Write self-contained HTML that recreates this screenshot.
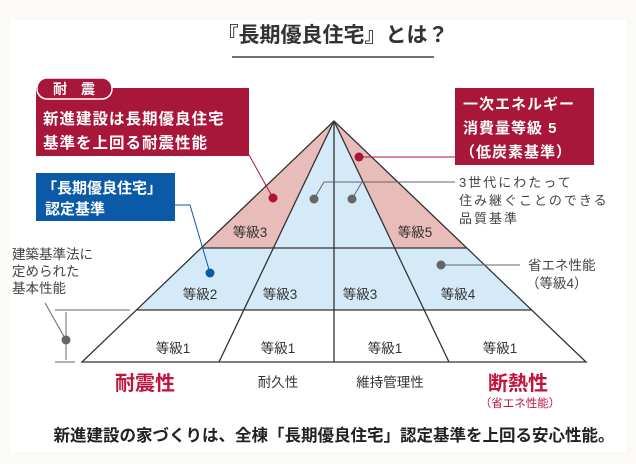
<!DOCTYPE html>
<html><head><meta charset="utf-8"><style>
body{margin:0;background:#fbfaf7;}
svg{display:block;font-family:"Liberation Sans","Noto Sans CJK JP",sans-serif;}
</style></head><body>
<svg width="636" height="464" viewBox="0 0 636 464">
<rect x="10" y="20" width="616" height="432" fill="#fff"/>
<text x="333" y="42" font-size="21" text-anchor="middle" fill="#333" font-weight="bold">『長期優良住宅』とは？</text>
<line x1="232" y1="57" x2="434" y2="57" stroke="#444" stroke-width="1.5"/>

<polygon points="82,362 586,362 532,310 136,310" fill="#fff"/>
<polygon points="136,310 532,310 467,248 201,248" fill="#d5eaf8"/>
<polygon points="334,121 201,248 273,248" fill="#e8bcb8"/>
<polygon points="334,121 395,248 467,248" fill="#e8bcb8"/>
<polygon points="334,121 273,248 395,248" fill="#d5eaf8"/>
<g stroke="#333" stroke-width="1.3" fill="none">
<polygon points="334,121 82,362 586,362"/>
<line x1="136" y1="310" x2="532" y2="310"/>
<line x1="201" y1="248" x2="467" y2="248"/>
<line x1="334" y1="121" x2="334" y2="362"/>
<line x1="334" y1="121" x2="219" y2="362"/>
<line x1="334" y1="121" x2="449" y2="362"/>
</g>
<g font-size="13.5" fill="#333" text-anchor="middle">
<text x="250" y="237">等級3</text><text x="415" y="237">等級5</text>
<text x="200" y="299">等級2</text><text x="280" y="299">等級3</text>
<text x="360" y="299">等級3</text><text x="458" y="299">等級4</text>
<text x="173" y="353">等級1</text><text x="278" y="353">等級1</text>
<text x="385" y="353">等級1</text><text x="500" y="353">等級1</text>
<text x="278" y="387">耐久性</text><text x="390" y="387">維持管理性</text>
</g>
<text x="145" y="390" font-size="20" font-weight="bold" fill="#c0143c" text-anchor="middle">耐震性</text>
<text x="518" y="390" font-size="20" font-weight="bold" fill="#c0143c" text-anchor="middle">断熱性</text>
<text x="520" y="407" font-size="11.5" fill="#c0143c" text-anchor="middle">（省エネ性能）</text>
<text x="334" y="441" font-size="16.5" font-weight="bold" fill="#222" text-anchor="middle">新進建設の家づくりは、全棟「長期優良住宅」認定基準を上回る安心性能。</text>

<rect x="36" y="88" width="213" height="68" fill="#a8163a"/>
<rect x="37" y="78" width="75" height="21" rx="10" fill="#a8163a" stroke="#fff" stroke-width="1.5"/>
<text x="74" y="94" font-size="14" fill="#fff" text-anchor="middle" font-weight="bold">耐　震</text>
<text x="43" y="124" font-size="15.5" fill="#fff" font-weight="bold" letter-spacing="1">新進建設は長期優良住宅</text>
<text x="43" y="148" font-size="15.5" fill="#fff" font-weight="bold" letter-spacing="1">基準を上回る耐震性能</text>
<line x1="249" y1="155" x2="273" y2="198" stroke="#a8163a" stroke-width="1"/>
<circle cx="273" cy="198" r="4.5" fill="#a8163a"/>

<rect x="36" y="173" width="139" height="48" fill="#0b5aa8"/>
<text x="42" y="193" font-size="15" fill="#fff" font-weight="bold">「長期優良住宅」</text>
<text x="45" y="214" font-size="15" fill="#fff" font-weight="bold">認定基準</text>
<polyline points="175,205 190,205 210,273" fill="none" stroke="#0b5aa8" stroke-width="1"/>
<circle cx="210" cy="273" r="4.5" fill="#0b5aa8"/>

<rect x="455" y="88" width="139" height="77" fill="#a8163a"/>
<text x="463" y="109" font-size="15" fill="#fff" font-weight="bold" letter-spacing="1">一次エネルギー</text>
<text x="463" y="133" font-size="15" fill="#fff" font-weight="bold" letter-spacing="1">消費量等級 5</text>
<text x="460" y="157" font-size="15" fill="#fff" font-weight="bold" letter-spacing="1">（低炭素基準）</text>
<line x1="359" y1="157" x2="455" y2="157" stroke="#a8163a" stroke-width="1"/>
<circle cx="359" cy="157" r="4.5" fill="#a8163a"/>

<g stroke="#666" stroke-width="1" fill="none">
<polyline points="314,199 324,182 455,182"/>
<line x1="352" y1="199" x2="362" y2="182"/>
<line x1="441" y1="265" x2="520" y2="265"/>
<line x1="55" y1="310" x2="130" y2="310"/>
<line x1="55" y1="362" x2="75" y2="362"/>
<line x1="66" y1="312" x2="66" y2="360"/>
<line x1="45" y1="303" x2="66" y2="340"/>
</g>
<circle cx="314" cy="199" r="4.5" fill="#666"/>
<circle cx="352" cy="199" r="4.5" fill="#666"/>
<circle cx="441" cy="265" r="4.5" fill="#666"/>
<circle cx="66" cy="340" r="4.5" fill="#666"/>
<g font-size="13" fill="#444">
<text x="459" y="187" letter-spacing="2">3世代にわたって</text>
<text x="459" y="205" letter-spacing="2">住み継ぐことのできる</text>
<text x="459" y="223" letter-spacing="2">品質基準</text>
<text x="528" y="270" font-size="13.5">省エネ性能</text>
<text x="526" y="288" font-size="13.5">（等級4）</text>
<text x="12" y="259" font-size="13.5">建築基準法に</text>
<text x="12" y="276" font-size="13.5">定められた</text>
<text x="12" y="293" font-size="13.5">基本性能</text>
</g>
</svg>
</body></html>
